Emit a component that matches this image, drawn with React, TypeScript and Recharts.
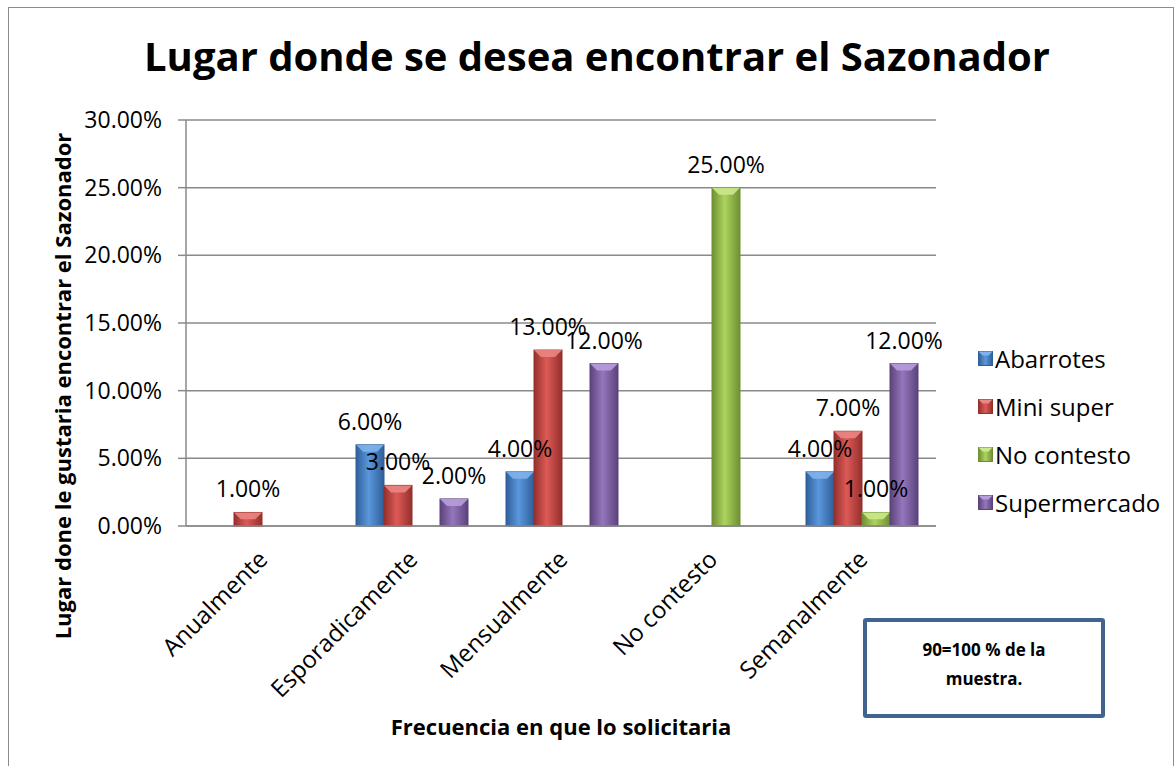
import React from 'react';
import { BarChart, Bar, XAxis, YAxis, CartesianGrid, LabelList } from 'recharts';

const categories = ['Anualmente', 'Esporadicamente', 'Mensualmente', 'No contesto', 'Semanalmente'];
const abarrotes = [null, 6, 4, null, 4];
const miniSuper = [1, 3, 13, null, 7];
const noContesto = [null, null, null, 25, 1];
const supermercado = [null, 2, 12, null, 12];
const yTicks = [0, 5, 10, 15, 20, 25, 30];

const series = [
  { key: 'Abarrotes', values: abarrotes, id: 'blue', light: '#5a97dc', mid: '#4a7ebb', dark: '#2f5f99', top: '#7fb2ea' },
  { key: 'Mini super', values: miniSuper, id: 'red', light: '#dc5a56', mid: '#c0504d', dark: '#952f2c', top: '#ea8683' },
  { key: 'No contesto', values: noContesto, id: 'green', light: '#acd35e', mid: '#9bbb59', dark: '#6f8f33', top: '#cbe88c' },
  { key: 'Supermercado', values: supermercado, id: 'purple', light: '#9576bd', mid: '#8064a2', dark: '#5b437b', top: '#b79ddb' },
];

const data = categories.map((c, i) => {
  const row: any = { name: c };
  series.forEach((s) => {
    row[s.key] = s.values[i];
  });
  return row;
});

const FONT = '"Open Sans", Lato, sans-serif';
const fmt = (v: any) => (v === null || v === undefined ? '' : Number(v).toFixed(2) + '%');

// bar with a side-lit gradient and a bevelled top, like the Excel 2007 style
const Bar3D = (props: any) => {
  const { x, y, width, height, s } = props;
  if (!height || height <= 0) return null;
  const b = Math.min(7, width / 4, height / 2);
  return (
    <g>
      <rect x={x} y={y} width={width} height={height} fill={`url(#grad-${s.id})`} stroke={s.dark} strokeWidth={1} />
      <polygon
        points={`${x},${y} ${x + width},${y} ${x + width - b},${y + b} ${x + b},${y + b}`}
        fill={s.top}
        opacity={0.9}
      />
    </g>
  );
};

const XTick = (props: any) => {
  const { x, y, payload } = props;
  const ax = x + 8;
  const ay = y + 27;
  return (
    <text
      x={ax}
      y={ay}
      transform={`rotate(-45, ${ax}, ${ay})`}
      textAnchor="end"
      fontSize={24}
      fontFamily={FONT}
      fill="#000"
    >
      {payload.value}
    </text>
  );
};

const ChartLegend = () => (
  <div style={{ position: 'absolute', left: 978, top: 334, fontFamily: FONT, fontSize: 24, color: '#000' }}>
    {series.map((s) => (
      <div key={s.key} style={{ display: 'flex', alignItems: 'center', height: 48, whiteSpace: 'nowrap' }}>
        <svg width={15} height={15} style={{ marginRight: 2 }}>
          <defs>
            <linearGradient id={`lg-${s.id}`} x1="0" y1="0" x2="1" y2="0">
              <stop offset="0%" stopColor={s.dark} />
              <stop offset="50%" stopColor={s.light} />
              <stop offset="100%" stopColor={s.dark} />
            </linearGradient>
          </defs>
          <rect x={0.5} y={0.5} width={14} height={14} fill={`url(#lg-${s.id})`} stroke={s.dark} />
          <polygon points="0.5,0.5 14.5,0.5 10.5,4.5 4.5,4.5" fill={s.top} />
        </svg>
        <span>{s.key}</span>
      </div>
    ))}
  </div>
);

export default function App() {
  return (
    <div style={{ position: 'absolute', left: 0, top: 0, width: 1174, height: 766, background: '#fff', fontFamily: FONT, overflow: 'hidden' }}>
      <div
        style={{
          position: 'absolute',
          left: 8,
          top: 7,
          width: 1166,
          height: 770,
          border: '1px solid #8c8c8c',
          boxSizing: 'border-box',
        }}
      />
      <div
        style={{
          position: 'absolute',
          left: 0,
          width: 1194,
          top: 28,
          textAlign: 'center',
          fontSize: 40,
          fontWeight: 700,
          color: '#000',
          whiteSpace: 'nowrap',
        }}
      >
        Lugar donde se desea encontrar el Sazonador
      </div>
      <div
        style={{
          position: 'absolute',
          left: 62,
          top: 386,
          transform: 'translate(-50%, -50%) rotate(-90deg)',
          whiteSpace: 'nowrap',
          fontSize: 22,
          fontWeight: 700,
          color: '#000',
        }}
      >
        Lugar done le gustaria encontrar el Sazonador
      </div>
      <div
        style={{
          position: 'absolute',
          left: 561,
          top: 726,
          transform: 'translate(-50%, -50%)',
          whiteSpace: 'nowrap',
          fontSize: 22,
          fontWeight: 700,
          color: '#000',
        }}
      >
        Frecuencia en que lo solicitaria
      </div>
      <div style={{ position: 'absolute', left: 0, top: 0 }}>
        <BarChart
          width={1174}
          height={766}
          data={data}
          margin={{ top: 120, right: 238, bottom: 180, left: 86 }}
          barCategoryGap={20}
          barGap={0}
        >
          <defs>
            {series.map((s) => (
              <linearGradient key={s.id} id={`grad-${s.id}`} x1="0" y1="0" x2="1" y2="0">
                <stop offset="0%" stopColor={s.dark} />
                <stop offset="45%" stopColor={s.light} />
                <stop offset="100%" stopColor={s.dark} />
              </linearGradient>
            ))}
          </defs>
          <CartesianGrid vertical={false} stroke="#8a8a8a" strokeWidth={1.5} />
          <XAxis
            dataKey="name"
            height={60}
            tick={<XTick />}
            tickLine={false}
            axisLine={{ stroke: '#8a8a8a', strokeWidth: 1.5 }}
            interval={0}
          />
          <YAxis
            width={100}
            domain={[0, 30]}
            ticks={yTicks}
            tickFormatter={(v: number) => v.toFixed(2) + '%'}
            tick={{ fontSize: 23, fill: '#000', fontFamily: FONT }}
            tickLine={{ stroke: '#8a8a8a', strokeWidth: 1.5 }}
            tickSize={8}
            tickMargin={16}
            axisLine={{ stroke: '#8a8a8a', strokeWidth: 1.5 }}
          />
          {series.map((s) => (
            <Bar
              key={s.key}
              dataKey={s.key}
              fill={s.mid}
              isAnimationActive={false}
              shape={(p: any) => <Bar3D {...p} s={s} />}
            >
              <LabelList
                dataKey={s.key}
                position="top"
                offset={15}
                formatter={fmt}
                fontSize={23}
                fill="#000"
                fontFamily={FONT}
              />
            </Bar>
          ))}
        </BarChart>
      </div>
      <ChartLegend />
      <div
        style={{
          position: 'absolute',
          left: 863,
          top: 618,
          width: 242,
          height: 100,
          border: '4px solid #41648f',
          borderRadius: 3,
          boxSizing: 'border-box',
          background: '#fff',
          textAlign: 'center',
          fontSize: 17,
          fontWeight: 700,
          lineHeight: '29px',
          paddingTop: 13,
          color: '#000',
        }}
      >
        90=100 % de la
        <br />
        muestra.
      </div>
    </div>
  );
}
